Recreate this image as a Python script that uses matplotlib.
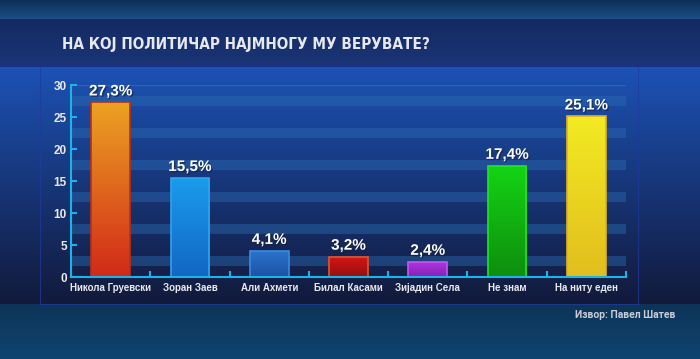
import matplotlib.pyplot as plt
import matplotlib.colors as mcolors
import matplotlib.patheffects as pe
import numpy as np

categories = ['Никола Груевски', 'Зоран Заев', 'Али Ахмети', 'Билал Касами',
              'Зијадин Села', 'Не знам', 'На ниту еден']
values = [27.3, 15.5, 4.1, 3.2, 2.4, 17.4, 25.1]
value_labels = ['27,3%', '15,5%', '4,1%', '3,2%', '2,4%', '17,4%', '25,1%']
y_ticks = [0, 5, 10, 15, 20, 25, 30]

# (top colour, bottom colour, edge colour) per bar
bar_styles = [
    ('#eca222', '#d22a18', '#b8301a'),
    ('#1a9cec', '#1266c4', '#2ea4f0'),
    ('#2c74cc', '#1a52a6', '#3a8ae0'),
    ('#d81414', '#941010', '#e05828'),
    ('#b234e4', '#8422b4', '#c656f2'),
    ('#14d414', '#0e8e0e', '#22e422'),
    ('#f2ea22', '#e2be1e', '#e2b024'),
]

W, H = 700, 359
fig = plt.figure(figsize=(7, 3.59), dpi=100)

# background layers
bg = fig.add_axes([0, 0, 1, 1])
bg.axis('off')


def vgrad(ax, x0, x1, y0, y1, c_top, c_bot, z=0):
    g = np.linspace(0, 1, 64)[:, None]
    cmap = mcolors.LinearSegmentedColormap.from_list('g', [c_top, c_bot])
    ax.imshow(g, aspect='auto', cmap=cmap, extent=[x0, x1, y1, y0],
              zorder=z, interpolation='bilinear')


vgrad(bg, 0, W, 0, 19, '#0d2f55', '#1b4f86')
vgrad(bg, 0, W, 19, 66, '#142a62', '#1a3576')
vgrad(bg, 0, W, 66, 304, '#1c52b4', '#121a3c')
vgrad(bg, 0, W, 304, H, '#0d3458', '#0f4470')
bg.plot([0, W], [66, 66], color='#1c2e90', lw=1.5, zorder=2)
for xv in [40, 638]:
    bg.plot([xv, xv], [66, 304], color='#1f3aa0', lw=0.8, alpha=0.7, zorder=2)
bg.plot([40, 638], [304, 304], color='#1f3aa0', lw=0.8, alpha=0.7, zorder=2)
bg.set_xlim(0, W)
bg.set_ylim(H, 0)

fig.text(62 / W, 1 - 44 / H, 'НА КОЈ ПОЛИТИЧАР НАЈМНОГУ МУ ВЕРУВАТЕ?',
         color='#e6e8ee', fontsize=11, fontweight='bold', fontstretch='condensed',
         family=['Liberation Sans Narrow', 'DejaVu Sans'], va='center', ha='left')
fig.text(675 / W, 1 - 315 / H, 'Извор: Павел Шатев', color='#c8ccd6',
         fontsize=7.5, fontweight='bold', family=['Liberation Sans Narrow', 'Roboto'],
         va='center', ha='right')

ax = fig.add_axes([71 / W, 82 / H, 555 / W, 192 / H])
ax.patch.set_alpha(0)

# horizontal stripes
for k in range(6):
    ax.axhspan(5 * k + 1.7, 5 * k + 3.3, color='#2a6ab0', alpha=0.45, lw=0, zorder=0)
ax.axhline(30, color='#3a6ac0', lw=0.8, alpha=0.7, zorder=0)

x = np.arange(len(categories))
bars = ax.bar(x, values, width=0.49, facecolor='none', zorder=3)
for b, (ct, cb, ce) in zip(bars, bar_styles):
    bx, by = b.get_x(), b.get_y()
    bw, bh = b.get_width(), b.get_height()
    g = np.linspace(0, 1, 64)[:, None]
    cmap = mcolors.LinearSegmentedColormap.from_list('b', [ct, cb])
    im = ax.imshow(g, aspect='auto', cmap=cmap, extent=[bx, bx + bw, by, by + bh],
                   zorder=2, interpolation='bilinear')
    im.set_clip_path(b)
    b.set_edgecolor(ce)
    b.set_linewidth(1.2)

shadow = [pe.SimplePatchShadow(offset=(1, -1), shadow_rgbFace='#1a2030', alpha=0.6),
          pe.Normal()]
for xi, v, lab in zip(x, values, value_labels):
    ax.text(xi, v + 0.6, lab, ha='center', va='bottom', color='white',
            fontsize=11, fontweight='bold', family='Liberation Sans', zorder=5,
            path_effects=shadow)

ax.set_xlim(-0.5, len(categories) - 0.5)
ax.set_ylim(0, 30)

for s in ['top', 'right']:
    ax.spines[s].set_visible(False)
for s in ['left', 'bottom']:
    ax.spines[s].set_color('#1ab4e8')
    ax.spines[s].set_linewidth(1.5)
    ax.spines[s].set_zorder(6)

ax.set_yticks(y_ticks)
ax.set_yticklabels([str(t) for t in y_ticks], color='#e8eaf0', fontsize=8.5,
                   fontweight='bold', family='Liberation Sans')
ax.set_xticks(np.arange(-0.5, len(categories), 1.0))
ax.set_xticklabels([])
ax.set_xticks(x, minor=True)
ax.set_xticklabels(categories, minor=True, color='#e8eaf0', fontsize=7,
                   fontweight='bold', family='Liberation Sans')
ax.tick_params(axis='x', which='minor', length=0, pad=4)
ax.tick_params(axis='x', which='major', length=4, direction='in', color='#1ab4e8', width=1.5)
ax.tick_params(axis='y', length=4, direction='in', color='#1ab4e8', width=1.5, pad=3)

fig.savefig('out.png', dpi=100, facecolor='#0d2f55')
